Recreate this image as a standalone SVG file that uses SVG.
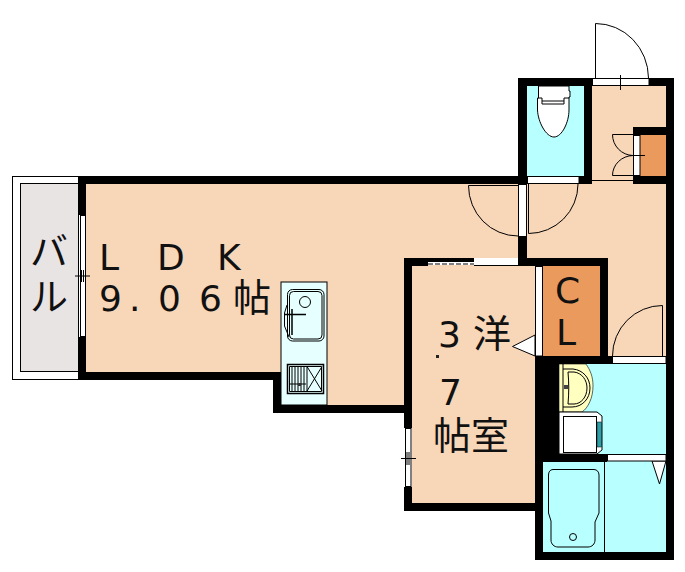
<svg xmlns="http://www.w3.org/2000/svg" width="685" height="572" viewBox="0 0 685 572">
<style>
.floor{fill:#f8d6b8}
.cl{fill:#ea9a5c}
.wet{fill:#b8ffff}
.wall{fill:#000}
.open{fill:#fff;stroke:#000;stroke-width:1}
.ln{fill:none;stroke:#000;stroke-width:1}
.ln2{fill:none;stroke:#000;stroke-width:1.5}
.w{fill:#fff;stroke:#000;stroke-width:1}
text{fill:#111}
.big{font-family:"DejaVu Sans","Liberation Sans",sans-serif;font-size:36px}
.cjk{font-family:"Noto Sans CJK JP","Liberation Sans",sans-serif;font-size:38px}
</style>
<rect width="685" height="572" fill="#fff"/>
<g id="balcony">
<rect x="12.5" y="176.5" width="66" height="203" fill="#fff" stroke="#000"/>
<rect x="20.5" y="183.5" width="58" height="188" fill="#e9e4e4" stroke="#000"/>
<text class="cjk" x="30" y="265">バ</text>
<text class="cjk" x="30" y="310">ル</text>
</g>
<g id="hall">
<path class="floor" d="M527 184H666V356H608V258H527Z"/>
<rect class="floor" x="592" y="86" width="74" height="98"/>
</g>
<g id="ldk">
<path class="floor" d="M86 184H520V372H86ZM281 372H405V405H281Z"/>
<text class="big" x="99 157 217" y="270">LDK</text>
<text class="big" x="99 129 158 199" y="311">9.06</text>
<text class="cjk" x="233" y="311">帖</text>
</g>
<g id="kitchen">
<rect x="281" y="282" width="46" height="123" fill="#e6ffff" stroke="#000"/>
<rect x="287.5" y="289.5" width="36.500" height="51.500" rx="5" class="ln"/>
<rect x="289.500" y="291.500" width="32.500" height="47.500" rx="4" class="ln"/>
<circle cx="305" cy="302" r="5.500" class="ln"/>
<path class="ln" d="M287 305L284.500 313V326L289 337"/>
<path class="ln2" d="M285 314.500H306M292 309V335"/>
<rect x="287.500" y="364.500" width="36" height="29" class="ln2"/>
<path class="ln" d="M289.500 366.500H321.500V391.500H289.500ZM292 367V391M295 367V391M298 367V391M301 367V391M304 367V391M307 367V391M307 366.500L322 391M322 366.500L307 391M290 384H306"/>
<rect x="298" y="383" width="3" height="3" fill="#333"/>
</g>
<g id="room-3-7">
<rect class="floor" x="412" y="266" width="123" height="237"/>
<path fill="#fff" stroke="#000" d="M535 335L512.500 346.500L535 356Z"/>
<text class="big" x="438" y="347">3</text>
<text class="cjk" x="473" y="347">洋</text>
<rect x="436" y="355" width="3" height="3" fill="#222"/>
<text class="big" x="439" y="405">7</text>
<text class="cjk" x="433" y="449">帖室</text>
</g>
<g id="storage">
<rect class="cl" x="640" y="135" width="26" height="41"/>
</g>
<g id="toilet">
<rect class="wet" x="527" y="86" width="57" height="90"/>
<path class="w" d="M538.500 86V98H537.500V110C538 122 546 137 554 137C562 137 569 122 569 110V97H570V91H569V86Z"/>
<path class="ln" d="M538 98H542V104H564V98H569M542 101H564"/>
</g>
<g id="closet">
<rect class="cl" x="543" y="266" width="57" height="90"/>
<text class="big" x="555" y="303">C</text>
<text class="big" x="556" y="345">L</text>
</g>
<g id="washroom">
<rect class="wet" x="559" y="364" width="107" height="90"/>
<path d="M559 364H586C590 370 593 376 593 386C593 398 588 408 582 412H559Z" fill="#ffffc0" stroke="#000" stroke-width=".6"/>
<path class="ln" d="M563 364V412M563 369H573C583 370 590 378 590 388C590 399 582 407 572 407H563M568 372H574C582 373 587 380 587 388C587 397 581 404 574 404H568C569 393 569 383 568 372Z"/>
<rect x="564" y="385" width="4" height="4" fill="#444"/>
<path fill="#fff" stroke="#000" d="M559 412H597L602 416V450L597 454H559Z"/>
<rect x="563.500" y="416.500" width="33" height="36" fill="#fff" stroke="#000"/>
<rect x="597" y="422" width="4.500" height="25" fill="#2aa0a8" stroke="#000" stroke-width=".5"/>
</g>
<g id="bath">
<rect class="wet" x="543" y="461" width="123" height="91"/>
<path class="ln" d="M604.500 461V552"/>
<path class="ln" d="M553 469.500H594C597 469.500 599 472 599 475V513L595 522V540C595 544 592 547 588 547H558C554 547 551 544 551 540V521L548.500 513V475C548.500 472 550 469.500 553 469.500Z"/>
<circle cx="573" cy="537" r="3.500" class="ln"/>
<path fill="#fff" stroke="#000" d="M652 461L659.500 484L666 461Z"/>
</g>
<g id="walls">
<rect class="wall" x="78" y="176" width="449" height="8"/>
<rect class="wall" x="78" y="176" width="8" height="39"/>
<rect class="wall" x="78" y="337" width="8" height="43"/>
<rect class="wall" x="78" y="372" width="203" height="8"/>
<rect class="wall" x="273" y="372" width="8" height="41"/>
<rect class="wall" x="273" y="405" width="139" height="8"/>
<rect class="wall" x="404" y="258" width="8" height="170"/>
<rect class="wall" x="404" y="487" width="8" height="24"/>
<rect class="wall" x="404" y="503" width="139" height="8"/>
<rect class="wall" x="404" y="258" width="24" height="8"/>
<rect class="wall" x="518" y="258" width="90" height="8"/>
<rect class="wall" x="518" y="237" width="9" height="29"/>
<rect class="wall" x="600" y="258" width="8" height="106"/>
<rect class="wall" x="535" y="356" width="78" height="8"/>
<rect class="wall" x="535" y="356" width="24" height="98"/>
<rect class="wall" x="535" y="454" width="72" height="8"/>
<rect class="wall" x="535" y="454" width="8" height="106"/>
<rect class="wall" x="535" y="552" width="139" height="8"/>
<rect class="wall" x="666" y="78" width="8" height="482"/>
<rect class="wall" x="518" y="78" width="9" height="106"/>
<rect class="wall" x="518" y="78" width="74" height="8"/>
<rect class="wall" x="584" y="78" width="8" height="106"/>
<rect class="wall" x="518" y="176" width="74" height="8"/>
<rect class="wall" x="649" y="78" width="25" height="8"/>
<rect class="wall" x="633" y="127" width="41" height="8"/>
<rect class="wall" x="633" y="176" width="41" height="8"/>
<rect class="wall" x="428" y="258" width="46" height="4"/>
</g>
<g id="openings">
<rect class="open" x="592.500" y="78.500" width="56.500" height="7"/>
<rect class="open" x="527.500" y="176.500" width="51.500" height="7"/>
<rect class="open" x="518.500" y="184.500" width="8" height="52"/>
<rect class="open" x="633.500" y="135.500" width="6.500" height="40"/>
<rect class="open" x="80.500" y="215.500" width="5" height="121"/>
<rect class="open" x="405.500" y="428.500" width="5.500" height="58"/>
<rect class="open" x="535.500" y="266.500" width="7" height="89.500"/>
<rect class="open" x="612.500" y="356.500" width="53.500" height="7"/>
<rect class="open" x="607.500" y="454.500" width="58.500" height="6.500"/>
<rect x="474" y="258" width="44" height="7" fill="#fff"/>
<rect x="428" y="262" width="46" height="3" fill="#fff"/>
<path d="M428 264H474" stroke="#000" stroke-width="1" stroke-dasharray="5 2" fill="none"/>
<path d="M474 265.500H518" stroke="#000" stroke-width="1" fill="none"/>
</g>
<g id="connectors">
<path class="ln" d="M595.500 78V23.500A53 55 0 0 1 648.500 78"/>
<path class="ln" d="M620.500 75V90"/>
<path class="ln" d="M592 180.500H633"/>
<path class="ln" d="M633 134.500H612.500A21 21 0 0 0 633 155.500A21 20 0 0 0 612.500 175.500H633M630 155.500H645"/>
<path class="ln" d="M518 185.500H468.500A49.500 50.500 0 0 0 518 236"/>
<path class="ln" d="M528.500 184V233.500A49.500 49.500 0 0 0 578 184"/>
<path class="ln" d="M662.500 356V305.500A50 50.500 0 0 0 612.500 356"/>
<path class="ln" d="M75 276H90M81.500 270V282M83.500 270V282"/>
<path class="ln" d="M401 458.500H416M407 452V465M409 452V465"/>
</g>
</svg>
